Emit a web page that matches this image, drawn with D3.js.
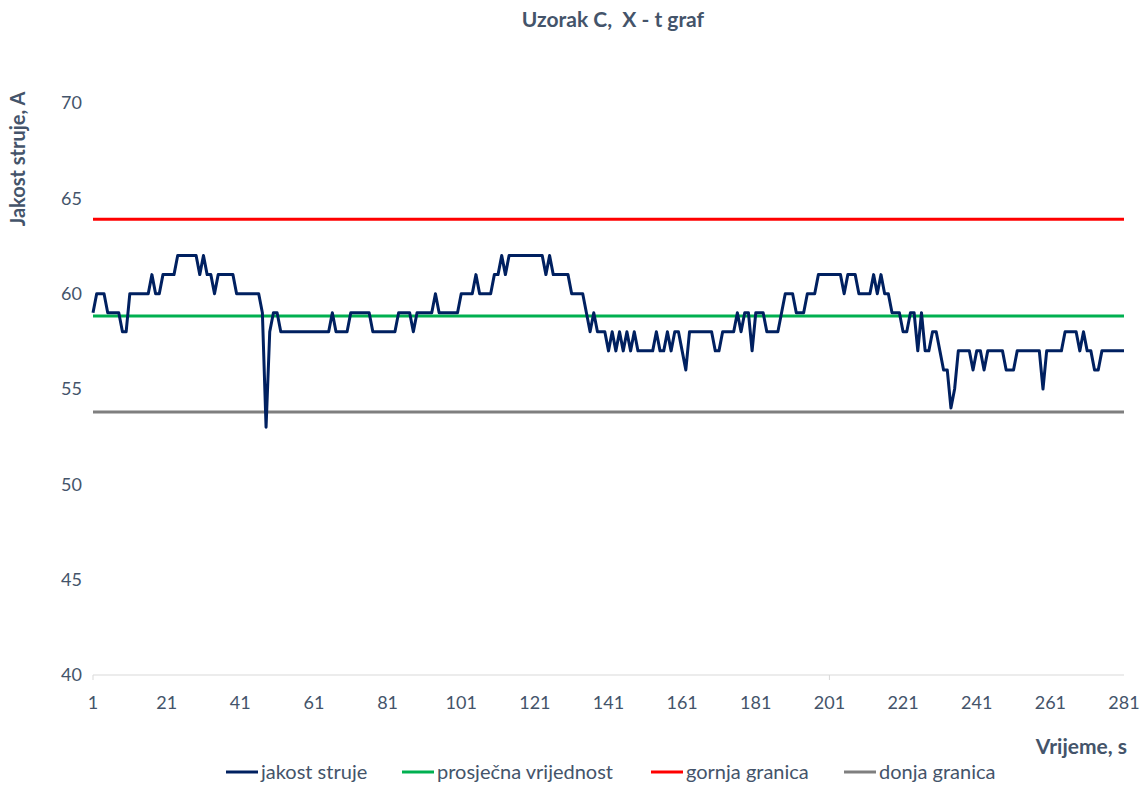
<!DOCTYPE html>
<html>
<head>
<meta charset="utf-8">
<script src="https://cdn.jsdelivr.net/npm/d3@7"></script>
<style>
  body { margin: 0; background: #fff; }
  text { font-family: Lato, 'Open Sans', sans-serif; fill: #44546A; white-space: pre; }
</style>
</head>
<body>
<svg></svg>
<script>
const title = 'Uzorak C,  X - t graf';
const yTitle = 'Jakost struje, A';
const xTitle = 'Vrijeme, s';

// jakost struje, one reading per second (1..281)
const current = [
  59,60,60,60,59,59,59,59,58,58,
  60,60,60,60,60,60,61,60,60,61,
  61,61,61,62,62,62,62,62,62,61,
  62,61,61,60,61,61,61,61,61,60,
  60,60,60,60,60,60,59,53,58,59,
  59,58,58,58,58,58,58,58,58,58,
  58,58,58,58,58,59,58,58,58,58,
  59,59,59,59,59,59,58,58,58,58,
  58,58,58,59,59,59,59,58,59,59,
  59,59,59,60,59,59,59,59,59,59,
  60,60,60,60,61,60,60,60,60,61,
  61,62,61,62,62,62,62,62,62,62,
  62,62,62,61,62,61,61,61,61,61,
  60,60,60,60,59,58,59,58,58,58,
  57,58,57,58,57,58,57,58,57,57,
  57,57,57,58,57,57,58,57,58,58,
  57,56,58,58,58,58,58,58,58,57,
  57,58,58,58,58,59,58,59,59,57,
  59,59,59,58,58,58,58,59,60,60,
  60,59,59,59,60,60,60,61,61,61,
  61,61,61,61,60,61,61,61,60,60,
  60,60,61,60,61,60,60,59,59,59,
  58,58,59,59,57,59,57,57,58,58,
  57,56,56,54,55,57,57,57,57,56,
  57,57,56,57,57,57,57,57,56,56,
  56,57,57,57,57,57,57,57,55,57,
  57,57,57,57,58,58,58,58,57,58,
  57,57,56,56,57,57,57,57,57,57,
  57
];

const meanValue = 58.83;
const upperLimit = 63.9;
const lowerLimit = 53.8;

const yTicks = [40, 45, 50, 55, 60, 65, 70];
const xTicks = [1, 21, 41, 61, 81, 101, 121, 141, 161, 181, 201, 221, 241, 261, 281];

const refLines = [
  { name: 'prosječna vrijednost', value: meanValue, color: '#00B050' },
  { name: 'gornja granica', value: upperLimit, color: '#FF0000' },
  { name: 'donja granica', value: lowerLimit, color: '#7F7F7F' },
];

const legendItems = [
  { name: 'jakost struje', color: '#002060', x: 226 },
  { name: 'prosječna vrijednost', color: '#00B050', x: 402 },
  { name: 'gornja granica', color: '#FF0000', x: 651 },
  { name: 'donja granica', color: '#7F7F7F', x: 844 },
];

const width = 1141;
const height = 785;
const plotLeft = 93, plotRight = 1124, plotTop = 103, plotBottom = 675;

const svg = d3.select('svg')
  .attr('width', width)
  .attr('height', height);

const xScale = d3.scaleLinear()
  .domain([1, 281])
  .range([plotLeft, plotRight]);

const yScale = d3.scaleLinear()
  .domain([40, 70])
  .range([plotBottom, plotTop]);

// title
svg.append('text')
  .attr('x', 613)
  .attr('y', 27)
  .attr('text-anchor', 'middle')
  .style('font-size', '21px')
  .style('font-weight', 'bold')
  .text(title);

// y tick labels (no gridlines in the original)
svg.append('g')
  .selectAll('text')
  .data(yTicks)
  .enter()
  .append('text')
    .attr('x', plotLeft - 11)
    .attr('y', (d) => yScale(d))
    .attr('dy', '0.35em')
    .attr('text-anchor', 'end')
    .style('font-size', '18px')
    .text((d) => d);

// x axis line
svg.append('line')
  .attr('x1', plotLeft)
  .attr('x2', plotRight)
  .attr('y1', plotBottom)
  .attr('y2', plotBottom)
  .attr('stroke', '#D9D9D9')
  .attr('stroke-width', 1);

svg.append('g')
  .selectAll('line')
  .data([1, 201])
  .enter()
  .append('line')
    .attr('x1', (d) => xScale(d))
    .attr('x2', (d) => xScale(d))
    .attr('y1', plotBottom)
    .attr('y2', plotBottom + 5)
    .attr('stroke', '#D9D9D9');

svg.append('g')
  .selectAll('text')
  .data(xTicks)
  .enter()
  .append('text')
    .attr('x', (d) => xScale(d))
    .attr('y', plotBottom + 34)
    .attr('text-anchor', 'middle')
    .style('font-size', '18px')
    .text((d) => d);

// axis titles
svg.append('text')
  .attr('transform', 'translate(25,159) rotate(-90)')
  .attr('text-anchor', 'middle')
  .style('font-size', '20px')
  .style('font-weight', 'bold')
  .text(yTitle);

svg.append('text')
  .attr('x', 1127)
  .attr('y', 754)
  .attr('text-anchor', 'end')
  .style('font-size', '21px')
  .style('font-weight', 'bold')
  .text(xTitle);

// reference lines
svg.append('g')
  .selectAll('line')
  .data(refLines)
  .enter()
  .append('line')
    .attr('x1', plotLeft)
    .attr('x2', plotRight)
    .attr('y1', (d) => yScale(d.value))
    .attr('y2', (d) => yScale(d.value))
    .attr('stroke', (d) => d.color)
    .attr('stroke-width', 3);

// current series
const line = d3.line()
  .x((d, i) => xScale(i + 1))
  .y((d) => yScale(d));

svg.append('path')
  .datum(current)
  .attr('fill', 'none')
  .attr('stroke', '#002060')
  .attr('stroke-width', 3)
  .attr('stroke-linejoin', 'round')
  .attr('d', line);

// legend
const legend = svg.append('g')
  .selectAll('g')
  .data(legendItems)
  .enter()
  .append('g')
    .attr('transform', (d) => `translate(${d.x},772)`);

legend.append('line')
  .attr('x1', 0)
  .attr('x2', 32)
  .attr('stroke', (d) => d.color)
  .attr('stroke-width', 3);

legend.append('text')
  .attr('x', 35)
  .attr('dy', '0.35em')
  .style('font-size', '20px')
  .text((d) => d.name);
</script>
</body>
</html>
